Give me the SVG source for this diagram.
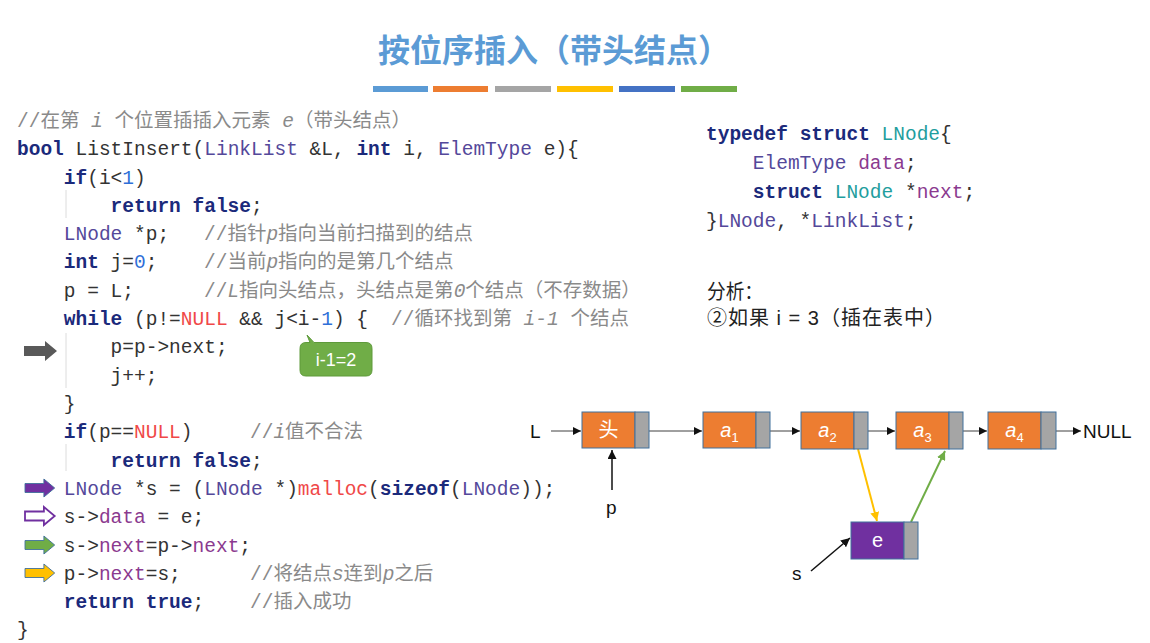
<svg xmlns="http://www.w3.org/2000/svg" width="1150" height="643" viewBox="0 0 1150 643">
<defs>
<style>
.code{font-family:"Liberation Mono","DejaVu Sans Mono","Noto Sans CJK SC",monospace;font-size:19.5px;fill:#333;white-space:pre}
.kw{fill:#1b2a7b;font-weight:bold}
.ty{fill:#54489a}
.fd{fill:#8b3a8f}
.red{fill:#f04848}
.num{fill:#2f6fd8}
.teal{fill:#1f9e9e}
.cm{fill:#8a8a8a;font-family:"Liberation Mono","Noto Sans CJK SC",monospace}
.it{font-style:italic}
.sans{font-family:"Liberation Sans","Noto Sans CJK SC",sans-serif}
.guide{stroke:#dcdcdc;stroke-width:1}
.data{stroke:#41719c;stroke-width:1}
.ptr{fill:#a5a5a5;stroke:#41719c;stroke-width:1}
.lbl{font-family:"Liberation Sans","Noto Sans CJK SC",sans-serif;font-size:20px;fill:#fff;text-anchor:middle}
.link{stroke:#404040;stroke-width:1;fill:none;marker-end:url(#ah)}
.blk{font-family:"Liberation Sans",sans-serif;font-size:19px;fill:#111}
</style>
<marker id="ah" viewBox="0 0 10 10" refX="10" refY="5" markerWidth="8" markerHeight="8" markerUnits="userSpaceOnUse" orient="auto"><path d="M0,0 L10,5 L0,10 Z" fill="#111"/></marker>
<marker id="ahb" viewBox="0 0 10 10" refX="10" refY="5" markerWidth="9" markerHeight="9" markerUnits="userSpaceOnUse" orient="auto"><path d="M0,0 L10,5 L0,10 Z" fill="#111"/></marker>
<marker id="ahy" viewBox="0 0 10 10" refX="10" refY="5" markerWidth="9" markerHeight="9" markerUnits="userSpaceOnUse" orient="auto"><path d="M0,0 L10,5 L0,10 Z" fill="#ffc000"/></marker>
<marker id="ahg" viewBox="0 0 10 10" refX="10" refY="5" markerWidth="9" markerHeight="9" markerUnits="userSpaceOnUse" orient="auto"><path d="M0,0 L10,5 L0,10 Z" fill="#70ad47"/></marker>
<path id="barrow" d="M0,-5 H21 V-10 L33,0 L21,10 V5 H0 Z"/>
</defs>
<rect width="1150" height="643" fill="#fff"/>

<g id="title">
<text x="554" y="62" text-anchor="middle" font-family="'Noto Sans CJK SC',sans-serif" font-size="32" font-weight="bold" fill="#5b9bd5" textLength="352" lengthAdjust="spacingAndGlyphs">按位序插入（带头结点）</text>
<rect x="373" y="86" width="55" height="6" fill="#5b9bd5"/>
<rect x="433" y="86" width="55" height="6" fill="#ed7d31"/>
<rect x="495" y="86" width="56" height="6" fill="#a5a5a5"/>
<rect x="557" y="86" width="56" height="6" fill="#ffc000"/>
<rect x="619" y="86" width="56" height="6" fill="#4472c4"/>
<rect x="681" y="86" width="56" height="6" fill="#70ad47"/>
</g>

<g id="code-left">
<line class="guide" x1="66" y1="190" x2="66" y2="218"/>
<line class="guide" x1="66" y1="333" x2="66" y2="388"/>
<line class="guide" x1="66" y1="444" x2="66" y2="471"/>
<text class="code cm" x="17" y="127">//在第 <tspan class="it">i</tspan> 个位置插插入元素 <tspan class="it">e</tspan>（带头结点）</text>
<text class="code" x="17" y="155"><tspan class="kw">bool</tspan> ListInsert(<tspan class="ty">LinkList</tspan> &amp;L, <tspan class="kw">int</tspan> i, <tspan class="ty">ElemType</tspan> e){</text>
<text class="code" x="63.8" y="184"><tspan class="kw">if</tspan>(i&lt;<tspan class="num">1</tspan>)</text>
<text class="code" x="110.6" y="212"><tspan class="kw">return</tspan> <tspan class="kw">false</tspan>;</text>
<text class="code" x="63.8" y="240"><tspan class="ty">LNode</tspan> *p;</text>
<text class="code cm" x="204" y="240">//指针<tspan class="it">p</tspan>指向当前扫描到的结点</text>
<text class="code" x="63.8" y="268"><tspan class="kw">int</tspan> j=<tspan class="num">0</tspan>;</text>
<text class="code cm" x="204" y="268">//当前<tspan class="it">p</tspan>指向的是第几个结点</text>
<text class="code" x="63.8" y="297">p = L;</text>
<text class="code cm" x="204" y="297">//<tspan class="it">L</tspan>指向头结点，头结点是第<tspan class="it">0</tspan>个结点（不存数据）</text>
<text class="code" x="63.8" y="325"><tspan class="kw">while</tspan> (p!=<tspan class="red">NULL</tspan> &amp;&amp; j&lt;i-<tspan class="num">1</tspan>) {</text>
<text class="code cm" x="391" y="325">//循环找到第 <tspan class="it">i-1</tspan> 个结点</text>
<text class="code" x="110.6" y="353">p=p-&gt;next;</text>
<text class="code" x="110.6" y="382">j++;</text>
<text class="code" x="63.8" y="410">}</text>
<text class="code" x="63.8" y="438"><tspan class="kw">if</tspan>(p==<tspan class="red">NULL</tspan>)</text>
<text class="code cm" x="250" y="438">//<tspan class="it">i</tspan>值不合法</text>
<text class="code" x="110.6" y="467"><tspan class="kw">return</tspan> <tspan class="kw">false</tspan>;</text>
<text class="code" x="63.8" y="495"><tspan class="ty">LNode</tspan> *s = (<tspan class="ty">LNode</tspan> *)<tspan class="red">malloc</tspan>(<tspan class="kw">sizeof</tspan>(<tspan class="ty">LNode</tspan>));</text>
<text class="code" x="63.8" y="523">s-&gt;<tspan class="fd">data</tspan> = e;</text>
<text class="code" x="63.8" y="552">s-&gt;<tspan class="fd">next</tspan>=p-&gt;<tspan class="fd">next</tspan>;</text>
<text class="code" x="63.8" y="580">p-&gt;<tspan class="fd">next</tspan>=s;</text>
<text class="code cm" x="250" y="580">//将结点<tspan class="it">s</tspan>连到<tspan class="it">p</tspan>之后</text>
<text class="code" x="63.8" y="608"><tspan class="kw">return</tspan> <tspan class="kw">true</tspan>;</text>
<text class="code cm" x="250" y="608">//插入成功</text>
<text class="code" x="17" y="636">}</text>
</g>

<g id="step-arrows">
<use href="#barrow" transform="translate(24,351)" fill="#595959"/>
<use href="#barrow" transform="translate(25,488) scale(0.9)" fill="#7030a0" stroke="#41719c" stroke-width="1"/>
<use href="#barrow" transform="translate(25,516) scale(0.9)" fill="#fff" stroke="#7030a0" stroke-width="2"/>
<use href="#barrow" transform="translate(25,545) scale(0.9)" fill="#70ad47" stroke="#41719c" stroke-width="1"/>
<use href="#barrow" transform="translate(25,573) scale(0.9)" fill="#ffc000" stroke="#41719c" stroke-width="1"/>
</g>

<g id="callout">
<path d="M307,335 L314,342.5 H366 Q372,342.5 372,348.5 V370 Q372,376 366,376 H306 Q300,376 300,370 V348.5 Q300,342.5 306,342.5 H310 Z" fill="#70ad47" stroke="#5e9a3b" stroke-width="1"/>
<text x="336" y="366" text-anchor="middle" font-family="'Liberation Sans',sans-serif" font-size="18" fill="#fff">i-1=2</text>
</g>

<g id="code-struct">
<text class="code" x="706" y="140"><tspan class="kw">typedef</tspan> <tspan class="kw">struct</tspan> <tspan class="teal">LNode</tspan>{</text>
<text class="code" x="752.8" y="169"><tspan class="ty" fill="#6a3d9a">ElemType</tspan> <tspan class="fd">data</tspan>;</text>
<text class="code" x="752.8" y="198"><tspan class="kw">struct</tspan> <tspan class="teal">LNode</tspan> *<tspan class="fd">next</tspan>;</text>
<text class="code" x="706" y="227">}<tspan class="ty">LNode</tspan>, *<tspan class="ty">LinkList</tspan>;</text>
</g>

<g id="analysis">
<text class="sans" x="707" y="299" font-size="20" fill="#222" textLength="56" lengthAdjust="spacingAndGlyphs">分析：</text>
<text class="sans" x="707" y="325" font-size="20" fill="#222" textLength="238" lengthAdjust="spacing">②如果 i = 3（插在表中）</text>
</g>

<g id="connectors">
<line class="link" x1="551" y1="431" x2="581" y2="431"/>
<line class="link" x1="649" y1="431" x2="702" y2="431"/>
<line class="link" x1="770" y1="431" x2="800" y2="431"/>
<line class="link" x1="868" y1="431" x2="895" y2="431"/>
<line class="link" x1="963" y1="431" x2="987" y2="431"/>
<line class="link" x1="1056" y1="431" x2="1081" y2="431"/>
<line x1="612" y1="490" x2="612" y2="450" stroke="#111" stroke-width="1.5" marker-end="url(#ahb)"/>
<line x1="811" y1="571" x2="850" y2="538" stroke="#111" stroke-width="1.5" marker-end="url(#ahb)"/>
<line x1="858" y1="449" x2="877" y2="521" stroke="#ffc000" stroke-width="2" marker-end="url(#ahy)"/>
<line x1="911" y1="522" x2="945" y2="451" stroke="#70ad47" stroke-width="2" marker-end="url(#ahg)"/>
</g>

<g id="label-L"><text class="blk" x="530" y="438">L</text></g>
<g id="label-p"><text class="blk" x="606" y="514">p</text></g>
<g id="label-s"><text class="blk" x="792" y="580">s</text></g>
<g id="label-NULL"><text class="blk" x="1083" y="438">NULL</text></g>

<g id="node-head">
<rect class="data" x="582" y="412" width="53" height="36" fill="#ed7d31"/>
<rect class="ptr" x="635" y="412" width="14" height="36"/>
<text class="lbl" x="608.5" y="437" font-family="'Noto Sans CJK SC',sans-serif" font-size="18">头</text>
</g>
<g id="node-a1">
<rect class="data" x="703" y="412" width="53" height="36" fill="#ed7d31"/>
<rect class="ptr" x="756" y="412" width="14" height="36"/>
<text class="lbl" x="729.5" y="437"><tspan font-style="italic">a</tspan><tspan font-size="13" dy="5">1</tspan></text>
</g>
<g id="node-a2">
<rect class="data" x="801" y="412" width="53" height="37" fill="#ed7d31"/>
<rect class="ptr" x="854" y="412" width="14" height="37"/>
<text class="lbl" x="827.5" y="437"><tspan font-style="italic">a</tspan><tspan font-size="13" dy="5">2</tspan></text>
</g>
<g id="node-a3">
<rect class="data" x="896" y="412" width="53" height="37" fill="#ed7d31"/>
<rect class="ptr" x="949" y="412" width="14" height="37"/>
<text class="lbl" x="922.5" y="437"><tspan font-style="italic">a</tspan><tspan font-size="13" dy="5">3</tspan></text>
</g>
<g id="node-a4">
<rect class="data" x="988" y="412" width="53" height="37" fill="#ed7d31"/>
<rect class="ptr" x="1041" y="412" width="15" height="37"/>
<text class="lbl" x="1014.5" y="437"><tspan font-style="italic">a</tspan><tspan font-size="13" dy="5">4</tspan></text>
</g>
<g id="node-e">
<rect class="data" x="851" y="522" width="53" height="37" fill="#7030a0"/>
<rect class="ptr" x="904" y="522" width="14" height="37"/>
<text class="lbl" x="877.5" y="547">e</text>
</g>
</svg>
